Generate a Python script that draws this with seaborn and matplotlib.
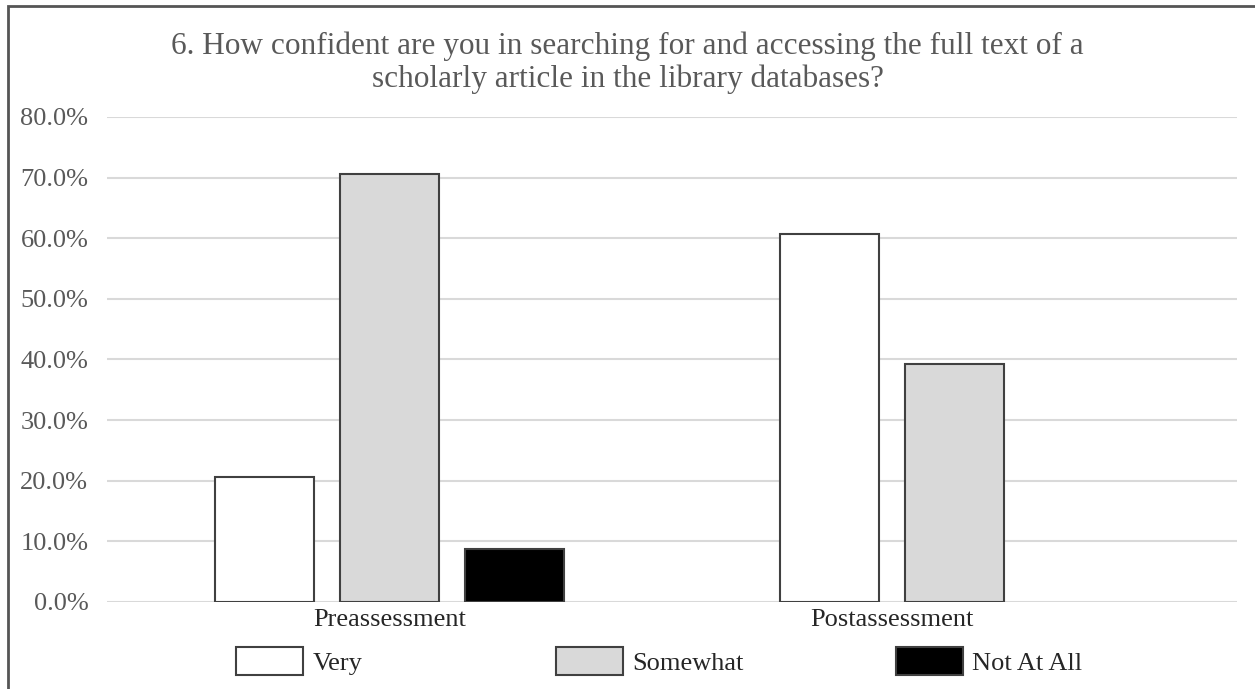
import matplotlib
matplotlib.use('Agg')
import matplotlib.pyplot as plt
import matplotlib.patches as mpatches
from matplotlib.ticker import PercentFormatter
import pandas as pd
import seaborn as sns

# survey results (share of respondents)
assessments = ['Preassessment', 'Postassessment']
levels = ['Very', 'Somewhat', 'Not At All']
very = [0.206, 0.607]
somewhat = [0.706, 0.393]
not_at_all = [0.088, None]  # no responses in the postassessment

rows = []
for i, a in enumerate(assessments):
    for lvl, vals in zip(levels, [very, somewhat, not_at_all]):
        if vals[i] is not None:
            rows.append({'Assessment': a, 'Confidence': lvl, 'Share': vals[i]})
data = pd.DataFrame(rows)

sns.set_style('white')
plt.rcParams['font.family'] = ['Liberation Serif', 'DejaVu Serif']

fig = plt.figure(figsize=(12.55, 6.89), dpi=100)
ax = fig.add_axes([0.0853, 0.1263, 0.9004, 0.7039])

palette = {'Very': 'white', 'Somewhat': '#d9d9d9', 'Not At All': 'black'}
group_w = 0.665
sns.barplot(data=data, x='Assessment', y='Share', hue='Confidence',
            order=assessments, hue_order=levels, palette=palette,
            width=group_w, gap=0.21, edgecolor='#404040', linewidth=1.5,
            saturation=1, legend=False, ax=ax, zorder=3)

ax.set_ylim(0, 0.8)
ax.set_xlim(-0.5, 1.5)
ax.yaxis.set_major_formatter(PercentFormatter(1.0, decimals=1))
ax.set_yticks([i / 10 for i in range(9)])
ax.grid(axis='y', color='#d9d9d9', linewidth=1.5, zorder=0)
ax.set_axisbelow(True)
for s in ax.spines.values():
    s.set_visible(False)

# center the category label under the bars that are actually present
step = group_w / len(levels)
centers = []
for i, a in enumerate(assessments):
    present = [j for j, vals in enumerate([very, somewhat, not_at_all]) if vals[i] is not None]
    offs = [(j - (len(levels) - 1) / 2) * step for j in present]
    centers.append(i + sum(offs) / len(offs))
ax.set_xticks(centers)
ax.set_xticklabels(assessments)

ax.tick_params(axis='y', length=0, pad=13.5, labelsize=19, labelcolor='#595959')
ax.tick_params(axis='x', length=0, pad=5, labelsize=19, labelcolor='#262626')
ax.set_xlabel('')
ax.set_ylabel('')

fig.text(0.5, 0.909,
         '6. How confident are you in searching for and accessing the full text of a\n'
         'scholarly article in the library databases?',
         ha='center', va='center', fontsize=22.5, color='#595959', linespacing=1.13)

# legend entries sit in separate slots along the bottom, as in the original
legend_x = [236, 556, 896]
for l, x in zip(levels, legend_x):
    h = mpatches.Patch(facecolor=palette[l], edgecolor='#404040', linewidth=1.5, label=l)
    fig.legend(handles=[h], loc='center left', bbox_to_anchor=(x / 1255, 0.0406),
               frameon=False, fontsize=19, handlelength=2.54, handleheight=1.29,
               handletextpad=0.35, borderpad=0, borderaxespad=0, labelcolor='#262626')

# outer frame of the figure
fig.add_artist(mpatches.Rectangle((8 / 1255, -0.05), 1.1, 1 - 6 / 689 + 0.05,
                                  transform=fig.transFigure, fill=False,
                                  edgecolor='#555555', linewidth=2))

fig.savefig('out.png', dpi=100)
